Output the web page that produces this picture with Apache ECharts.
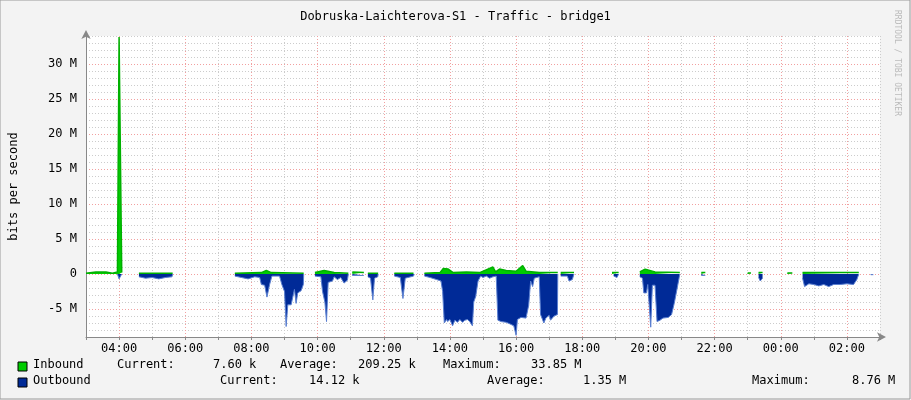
<!DOCTYPE html>
<html><head><meta charset="utf-8">
<script src="https://cdn.jsdelivr.net/npm/echarts@6/dist/echarts.min.js"></script>
<style>html,body{margin:0;padding:0;background:#f3f3f3}#c{width:911px;height:400px}</style>
</head><body><div id="c"></div>
<script>
const title = 'Dobruska-Laichterova-S1 - Traffic - bridge1';
const yTickLabels = ['-5 M','0','5 M','10 M','15 M','20 M','25 M','30 M'];
// x in hours since midnight of day 1 (24+ = next day), y in Mbit/s
const inbound = [[3.0,0.1],[3.3,0.3],[3.6,0.3],[3.8,0.1],[3.95,0.3],[4.0,33.85],[4.05,33.85],[4.08,0.2],null,
[4.6,0.1],[5.62,0.1],null,
[7.5,0.1],[8.3,0.2],[8.45,0.5],[8.6,0.2],[9.58,0.1],null,[9.92,0.2],[10.2,0.5],[10.5,0.2],[10.93,0.1],null,
[11.05,0.3],[11.4,0.2],null,[11.52,0.1],[11.83,0.1],null,[12.32,0.1],[12.9,0.1],null,
[13.23,0.1],[13.7,0.2],[13.8,0.8],[13.95,0.7],[14.1,0.2],[14.5,0.3],[14.9,0.2],[15.3,1.0],[15.38,0.3],[15.5,0.7],
[15.7,0.5],[16.0,0.4],[16.2,1.2],[16.3,0.4],[16.7,0.2],[17.26,0.2],null,[17.35,0.2],[17.75,0.2],null,
[18.9,0.2],[19.1,0.2],null,[19.74,0.3],[19.9,0.7],[20.2,0.3],[20.95,0.2],null,[21.6,0.2],[21.72,0.2],null,
[23.0,0.15],[23.1,0.15],null,[23.33,0.2],[23.45,0.2],null,[24.2,0.15],[24.35,0.15],null,[24.66,0.2],[26.36,0.2]];
const outbound = [[3.95,0],[4.0,-0.7],[4.05,-0.7],[4.08,0],null,
[4.6,-0.4],[4.8,-0.6],[5.0,-0.5],[5.2,-0.7],[5.4,-0.5],[5.6,-0.4],[5.62,0],null,
[7.5,-0.3],[7.7,-0.5],[7.9,-0.7],[8.1,-0.4],[8.25,-0.5],[8.3,-1.5],[8.4,-1.6],[8.47,-3.3],[8.55,-1.5],[8.62,-0.3],[8.85,-0.3],
[8.92,-1.5],[9.0,-2.5],[9.05,-7.5],[9.1,-4.4],[9.2,-4.4],[9.3,-2.2],[9.35,-4.2],[9.4,-2.7],[9.5,-2.4],[9.57,-1.5],[9.58,0],null,
[9.92,-0.3],[10.1,-0.4],[10.15,-2.5],[10.22,-4],[10.27,-6.8],[10.32,-1.2],[10.45,-1.0],[10.5,-0.4],[10.6,-0.8],[10.7,-0.5],
[10.8,-1.3],[10.9,-0.9],[10.93,0],null,[11.05,-0.2],[11.4,-0.2],null,
[11.52,-0.4],[11.6,-0.6],[11.67,-3.7],[11.72,-0.6],[11.82,-0.4],[11.83,0],null,
[12.32,-0.3],[12.5,-0.5],[12.58,-3.5],[12.65,-0.6],[12.9,-0.3],[12.92,0],null,
[13.23,-0.3],[13.4,-0.5],[13.6,-0.8],[13.73,-1.0],[13.78,-2.5],[13.83,-7.0],[13.9,-6.5],[13.93,-6.8],[14.0,-6.5],[14.08,-7.4],
[14.15,-6.6],[14.23,-6.9],[14.3,-6.5],[14.38,-6.9],[14.45,-6.6],[14.53,-6.5],[14.6,-6.8],[14.68,-7.4],[14.72,-4],[14.78,-3.2],
[14.85,-1.0],[14.93,-0.3],[15.0,-0.5],[15.1,-0.3],[15.2,-0.6],[15.3,-0.4],[15.4,-0.3],
[15.45,-6.6],[15.55,-6.8],[15.7,-6.9],[15.8,-7.1],[15.93,-7.4],[16.0,-8.76],[16.04,-6.5],[16.15,-6.2],[16.3,-6.3],[16.38,-4.5],
[16.44,-1.0],[16.5,-1.8],[16.55,-0.6],[16.7,-0.4],[16.74,-5.8],[16.84,-7.0],[16.9,-6.3],[17.0,-5.9],[17.04,-6.6],[17.15,-6.0],
[17.25,-5.8],[17.26,0],null,
[17.35,-0.3],[17.55,-0.3],[17.6,-1.0],[17.7,-0.8],[17.75,0],null,[18.95,-0.3],[19.05,-0.5],[19.1,0],null,
[19.74,-0.4],[19.82,-0.6],[19.86,-2.7],[19.94,-2.7],[19.98,-1.5],[20.04,-1.5],[20.07,-7.6],[20.12,-1.6],[20.2,-1.6],[20.26,-6.8],
[20.35,-6.6],[20.44,-6.3],[20.5,-6.5],[20.6,-6.2],[20.7,-5.8],[20.78,-4.2],[20.85,-2.5],[20.93,-0.5],[20.95,0],null,
[21.6,-0.2],[21.72,-0.2],null,[23.33,-0.5],[23.38,-1.0],[23.45,-0.6],null,
[24.66,-0.6],[24.72,-1.8],[24.85,-1.4],[25.0,-1.5],[25.15,-1.7],[25.3,-1.5],[25.45,-1.8],[25.6,-1.5],[25.8,-1.5],[26.0,-1.4],
[26.2,-1.5],[26.3,-0.8],[26.36,0],null,[26.72,-0.1],[26.8,-0.1]];
const legendIn = ['Inbound','Current:','7.60 k','Average:','209.25 k','Maximum:','33.85 M'];
const legendOut = ['Outbound','Current:','14.12 k','Average:','1.35 M','Maximum:','8.76 M'];

const F = 'DejaVu Sans Mono';
const chart = echarts.init(document.getElementById('c'));
const t = (x,y,s,extra) => Object.assign({type:'text',left:x,top:y,style:{text:s,font:'12px "'+F+'"',fill:'#000'}},extra||{});
const g = [
  {type:'rect',shape:{x:0,y:0,width:910,height:399},style:{fill:'none',stroke:'#999',lineWidth:1},z:-1},
  {type:'text',x:901,y:10,rotation:-Math.PI/2,style:{text:'RRDTOOL / TOBI OETIKER',font:'8px "'+F+'"',fill:'#bbb'}},
  {type:'rect',shape:{x:18,y:362,width:9,height:9},style:{fill:'#00cc00',stroke:'#000'}},
  {type:'rect',shape:{x:18,y:378,width:9,height:9},style:{fill:'#002a97',stroke:'#000'}},
];
const inX=[33,117,213,280,358,443,531], outX=[33,220,309,487,583,752,852];
legendIn.forEach((s,i)=>g.push(t(inX[i],359,s)));
legendOut.forEach((s,i)=>g.push(t(outX[i],375,s)));
const hl = h => { h = Math.round(h)%24; return h%2 ? '' : String(h).padStart(2,'0')+':00'; };
chart.setOption({
  backgroundColor:'#f3f3f3',
  animation:false,
  title:{text:title,left:'center',top:6,textStyle:{fontFamily:F,fontSize:12,fontWeight:'normal',color:'#000'}},
  grid:{left:81,right:31,top:36,bottom:63,backgroundColor:'#fff',show:true,borderWidth:0},
  xAxis:{type:'value',min:3,max:27,interval:1,
    axisLine:{onZero:false,lineStyle:{color:'#888'},symbol:['none','arrow'],symbolSize:[7,9],symbolOffset:[0,6]},
    axisTick:{show:true,length:3,lineStyle:{color:'#888'}},
    axisLabel:{formatter:hl,fontFamily:F,fontSize:12,color:'#000',margin:6},
    splitLine:{show:true,lineStyle:{type:[1,2],color:['#ccc','#f2a0a0']}}},
  yAxis:{type:'value',min:-9,max:34,interval:1,
    name:'bits per second',nameLocation:'middle',nameGap:66,nameTextStyle:{fontFamily:F,fontSize:12,color:'#000'},
    axisLine:{show:true,lineStyle:{color:'#888'},symbol:['none','arrow'],symbolSize:[7,9],symbolOffset:[0,6]},
    axisTick:{show:false},
    axisLabel:{fontFamily:F,fontSize:12,color:'#000',margin:9,formatter:v=>{
      if(v%5!==0) return ''; return yTickLabels[(v+5)/5] ?? '';}},
    splitLine:{show:true,lineStyle:{type:[1,2],color:['#ccc','#ccc','#ccc','#ccc','#f2a0a0']}}},
  series:[
    {type:'line',data:outbound,symbol:'none',connectNulls:false,lineStyle:{color:'#5a7fd0',width:1},
     areaStyle:{color:'#002a97',opacity:1,origin:0},z:2},
    {type:'line',data:inbound,symbol:'none',connectNulls:false,lineStyle:{color:'#00b000',width:1.5},
     areaStyle:{color:'#00cc00',opacity:1,origin:0},z:3}
  ],
  graphic:g
});
</script></body></html>
